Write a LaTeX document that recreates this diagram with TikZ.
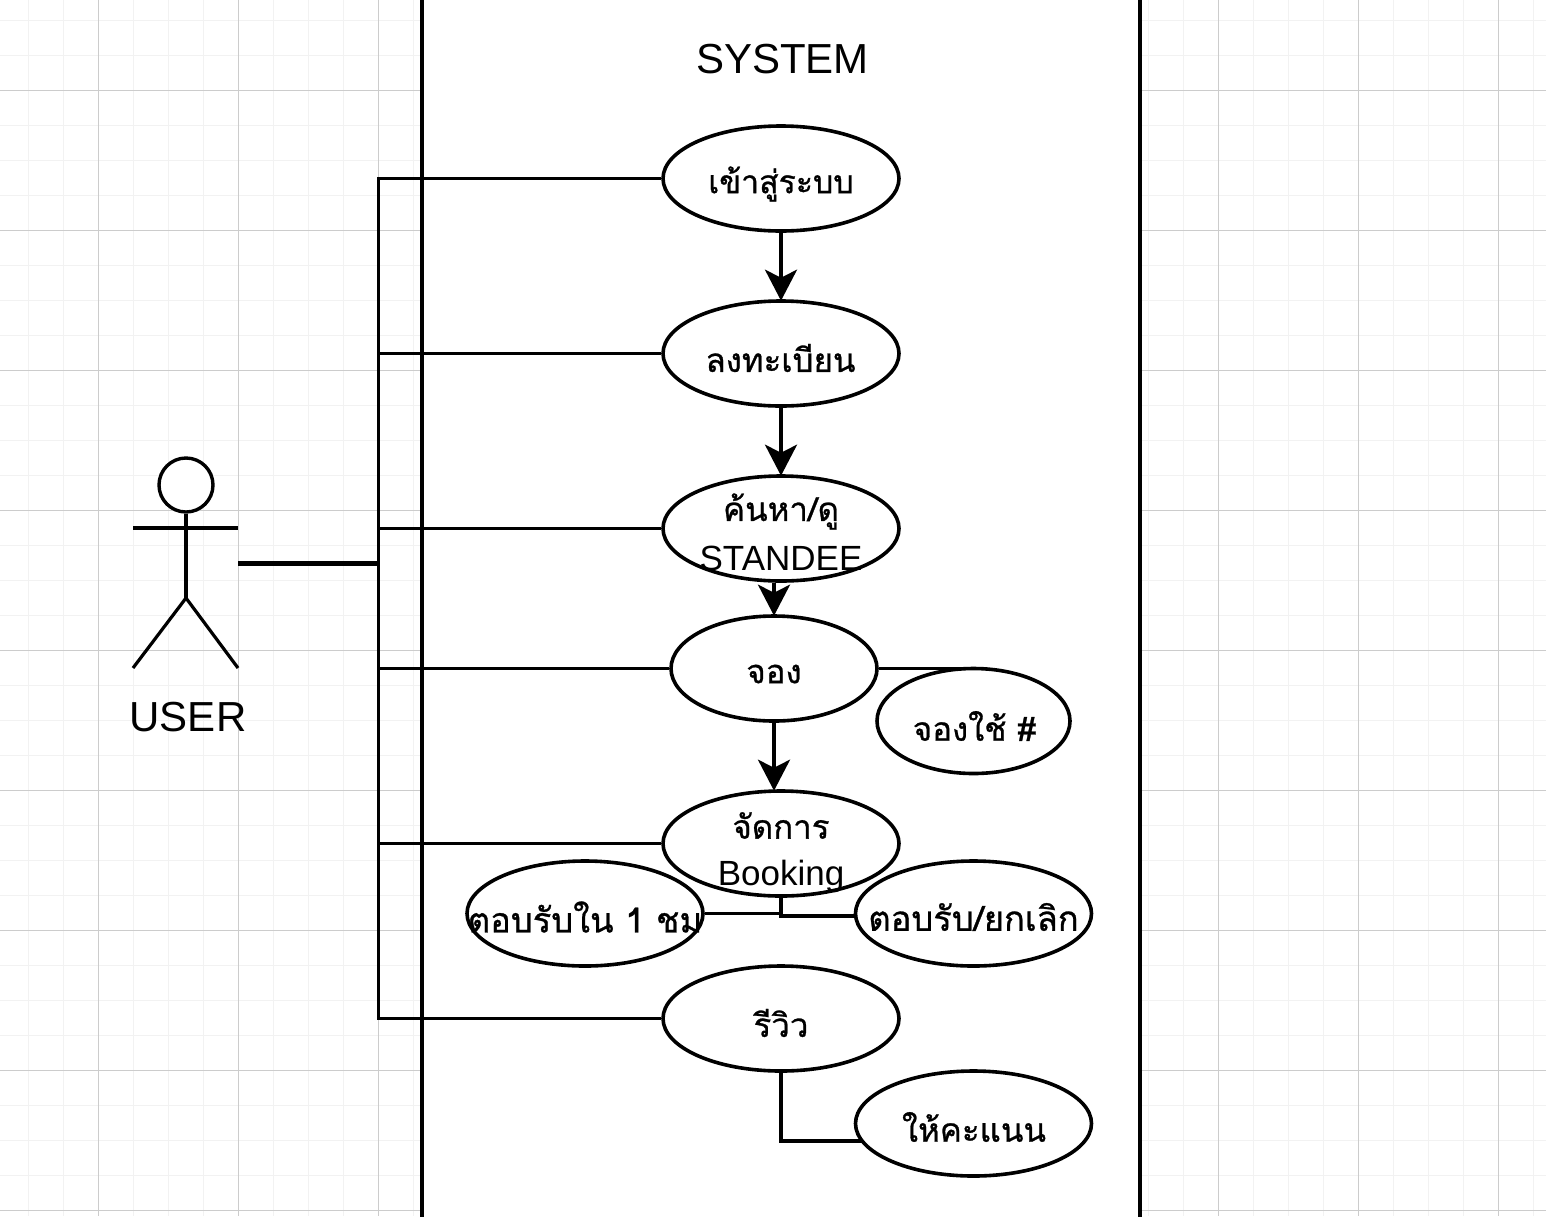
\documentclass[tikz,border=0pt]{standalone}
\usepackage{fontspec}
\setmainfont{Liberation Sans}
\newfontfamily\thaifont[Script=Thai,FakeBold=0.8]{Loma}
\usetikzlibrary{arrows.meta,shapes.geometric}
\tikzset{
  x=1pt,y=-1pt,
  minorgrid/.style={draw=black!5,line width=1.6pt},
  majorgrid/.style={draw=black!20,line width=1pt},
  link/.style={draw=black,line width=3.6pt},
  flow/.style={link,shorten >=-1.5pt,-{Stealth[length=31pt,width=32pt,inset=8pt]}},
  usecase/.style={draw=black,line width=3.6pt,fill=white,ellipse,inner sep=0pt,minimum width=236pt,minimum height=105pt},
  txt/.style={inner sep=0pt,align=center,font=\fontsize{33}{49}\selectfont\thaifont},
  txtwide/.style={inner sep=0pt,align=center,font=\fontsize{34.5}{49}\selectfont\thaifont},
  latintxt/.style={inner sep=0pt,align=center,font=\fontsize{35}{49}\selectfont},
  title/.style={inner sep=0pt,font=\fontsize{42}{50}\selectfont},
}
\begin{document}
\begin{tikzpicture}
\useasboundingbox (0,0) rectangle (1546,1216);
\fill[white] (0,0) rectangle (1546,1216);
% grid
\foreach \k in {0,...,43}{
  \pgfmathsetmacro\gx{28.5+35*\k}
  \draw[minorgrid] (\gx,0) -- (\gx,1216);
}
\foreach \k in {0,...,34}{
  \pgfmathsetmacro\gy{20.5+35*\k}
  \draw[minorgrid] (0,\gy) -- (1546,\gy);
}
\foreach \k in {0,...,10}{
  \pgfmathsetmacro\gx{98.5+140*\k}
  \draw[majorgrid] (\gx,0) -- (\gx,1216);
}
\foreach \k in {0,...,8}{
  \pgfmathsetmacro\gy{90.5+140*\k}
  \draw[majorgrid] (0,\gy) -- (1546,\gy);
}
% system boundary
\fill[white] (422,0) rectangle (1140,1216);
\coordinate (st) at (422,-5);
\coordinate (sb) at (422,1221);
\coordinate (rt) at (1140,-5);
\coordinate (rb) at (1140,1221);
\draw[link] (st) -- (sb);
\draw[link] (rt) -- (rb);
\node[title] (system) at (782.5,59) {SYSTEM};
% actor
\node[draw=black,line width=3.4pt,circle,fill=white,minimum size=54pt,inner sep=0pt] (head) at (186,485) {};
\coordinate (hip) at (186,598);
\coordinate (armL) at (133,528);
\coordinate (armR) at (238,528);
\coordinate (legL) at (133,668);
\coordinate (legR) at (238,668);
\draw[link,line width=3.2pt] (head.south) -- (hip);
\draw[link,line width=3.2pt] (armL) -- (armR);
\draw[link,line width=3.2pt,line join=round] (legL) -- (hip) -- (legR);
\node[title] (user) at (188,717) {USER};
% bus
\coordinate (actorout) at (238,563.5);
\coordinate (busjoin) at (378.5,563.5);
\coordinate (bustop) at (378.5,178.5);
\coordinate (busbot) at (378.5,1018.5);
% use cases
\node[usecase] (e1) at (781,178.5) {};
\node[usecase] (e2) at (781,353.5) {};
\node[usecase] (e3) at (781,528.5) {};
\node[usecase,minimum width=206pt] (e4) at (774,668.5) {};
\node[usecase,minimum width=193pt] (e5) at (973.5,721) {};
\node[usecase] (e6) at (781,843.5) {};
\node[usecase] (e7) at (585,913.5) {};
\node[usecase] (e8) at (973.5,913.5) {};
\node[usecase] (e9) at (781,1018.5) {};
\node[usecase] (e10) at (973.5,1123.5) {};
% connectors from the user
\draw[link,line width=4.2pt] (actorout) -- (busjoin);
\draw[link,line cap=rect] (bustop) -- (busbot);
\foreach \e in {e1,e2,e3,e4,e6,e9}{
  \draw[link] (\e.west) -| (busjoin);
}
% flow
\draw[flow] (e1.south) -- (e2.north);
\draw[flow] (e2.south) -- (e3.north);
\draw[flow] (e3.south -| e4.north) -- (e4.north);
\draw[flow] (e4.south) -- (e4.south |- e6.north);
% extensions
\draw[link] (e4.east) -- (e5.north |- e4.east);
\draw[link] (e6.south) |- (e7.east);
\draw[link] (e6.south) |- (855.5,916);
\draw[link] (e9.south) |- (862,1141);
% labels
\node[txt,font=\fontsize{32}{49}\selectfont\thaifont] (t1) at (781,184) {เข้าสู่ระบบ};
\node[txt] (t2) at (780.5,358) {ลงทะเบียน};
\node[txt] (t3a) at (781,511.5) {ค้นหา/ดู};
\node[latintxt] (t3b) at (781,558.5) {STANDEE};
\node[txt] (t4) at (774,674) {จอง};
\node[txt] (t5) at (974.5,726) {จองใช้ \#};
\node[txt] (t6a) at (781,825.5) {จัดการ};
\node[latintxt] (t6b) at (781,876) {Booking};
\node[txtwide] (t7) at (585,917) {ตอบรับใน 1 ชม};
\node[txtwide] (t8) at (973.5,917) {ตอบรับ/ยกเลิก};
\node[txt] (t9) at (781,1023) {รีวิว};
\node[txt] (t10) at (974,1127) {ให้คะแนน};
\end{tikzpicture}
\end{document}
